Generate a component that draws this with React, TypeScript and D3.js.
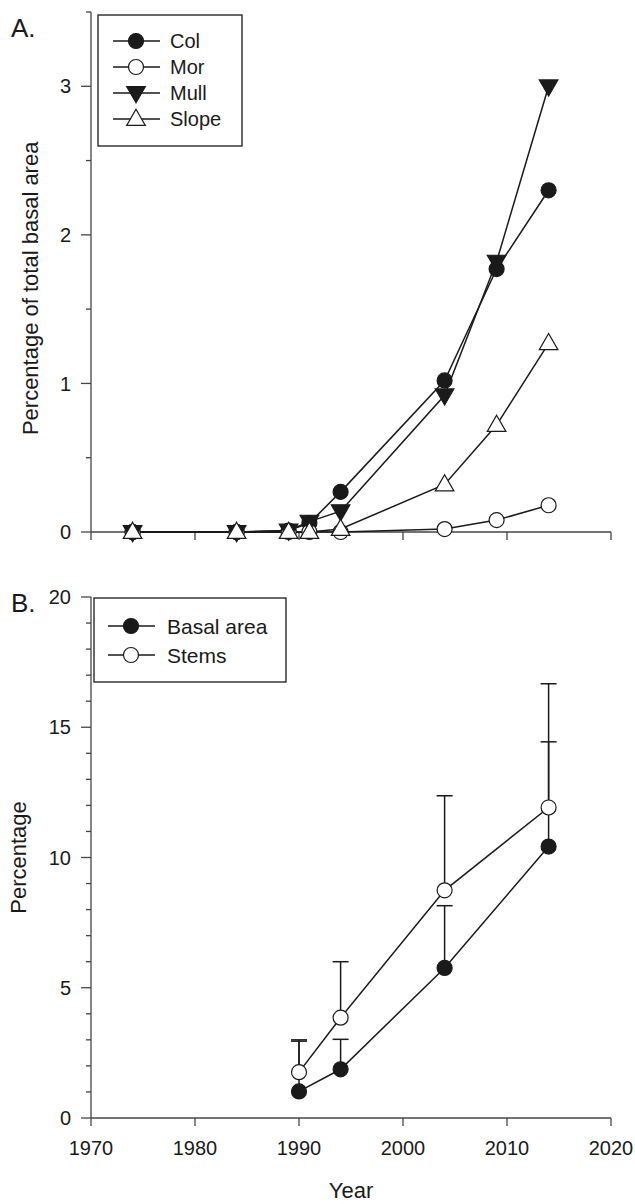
import React from "react";
import * as d3 from "d3";

// ---- Data ----
const yearsA = [1974, 1984, 1989, 1991, 1994, 2004, 2009, 2014];
const colValues = [0, 0, 0.01, 0.06, 0.27, 1.02, 1.77, 2.3];
const morValues = [0, 0, 0, 0, 0, 0.02, 0.08, 0.18];
const mullValues = [0, 0, 0.01, 0.07, 0.14, 0.92, 1.82, 3.0];
const slopeValues = [0, 0, 0, 0, 0.02, 0.32, 0.72, 1.27];
const seriesNamesA = ["Col", "Mor", "Mull", "Slope"];

const yearsB = [1990, 1994, 2004, 2014];
const basalValues = [1.02, 1.87, 5.76, 10.42];
const basalUpper = [2.95, 3.02, 8.15, 14.44];
const stemsValues = [1.76, 3.85, 8.74, 11.92];
const stemsUpper = [3.0, 6.0, 12.37, 16.67];
const seriesNamesB = ["Basal area", "Stems"];

const xTicks = [1970, 1980, 1990, 2000, 2010, 2020];
const yTicksA = [0, 1, 2, 3];
const yMinorA = [0.5, 1.5, 2.5, 3.5];
const yTicksB = [0, 5, 10, 15, 20];

const FONT = "'Liberation Sans', Arial, Helvetica, sans-serif";
const INK = "#1a1a1a";
const AXIS = "#444";

type Shape = "circle" | "triangleDown" | "triangleUp";

function Marker({ x, y, shape, filled }: { x: number; y: number; shape: Shape; filled: boolean }) {
  const fill = filled ? INK : "#fff";
  if (shape === "circle") {
    return <circle cx={x} cy={y} r={7.5} fill={fill} stroke={INK} strokeWidth={1.2} />;
  }
  const sym = d3.symbol().type(d3.symbolTriangle).size(150)();
  const rot = shape === "triangleDown" ? 180 : 0;
  return (
    <path
      d={sym || ""}
      transform={`translate(${x},${y + (shape === "triangleDown" ? -1 : 1)}) rotate(${rot})`}
      fill={fill}
      stroke={INK}
      strokeWidth={1.2}
    />
  );
}

export default function App() {
  const x = d3.scaleLinear().domain([1970, 2020]).range([91, 611]);
  const yA = d3.scaleLinear().domain([0, 3.5]).range([532, 12]);
  const yB = d3.scaleLinear().domain([0, 20]).range([1118, 597]);

  const line = (ys: (v: number) => number, xs: number[], vals: number[]) =>
    d3
      .line<number>()
      .x((_, i) => x(xs[i]))
      .y((v) => ys(v))(vals) || "";

  const seriesA = [
    { name: seriesNamesA[0], vals: colValues, shape: "circle" as Shape, filled: true },
    { name: seriesNamesA[1], vals: morValues, shape: "circle" as Shape, filled: false },
    { name: seriesNamesA[2], vals: mullValues, shape: "triangleDown" as Shape, filled: true },
    { name: seriesNamesA[3], vals: slopeValues, shape: "triangleUp" as Shape, filled: false },
  ];
  const seriesB = [
    { name: seriesNamesB[0], vals: basalValues, up: basalUpper, filled: true },
    { name: seriesNamesB[1], vals: stemsValues, up: stemsUpper, filled: false },
  ];

  const yMinorB = d3.range(1, 20).filter((v) => v % 5 !== 0);

  return (
    <svg
      width={635}
      height={1204}
      style={{ position: "absolute", left: 0, top: 0, background: "#fff" }}
      fontFamily={FONT}
    >
      {/* ===== Panel A ===== */}
      <text x={11} y={37} fontSize={26} fill={INK}>A.</text>
      <line x1={x(1970)} x2={x(1970)} y1={yA(3.5)} y2={yA(0)} stroke={AXIS} strokeWidth={1.3} />
      <line x1={x(1970)} x2={x(2020)} y1={yA(0)} y2={yA(0)} stroke={AXIS} strokeWidth={1.3} />
      {xTicks.map((t) => (
        <line key={"xa" + t} x1={x(t)} x2={x(t)} y1={yA(0)} y2={yA(0) + 8} stroke={AXIS} strokeWidth={1.3} />
      ))}
      {yTicksA.map((t) => (
        <g key={"ya" + t}>
          <line x1={x(1970) - 10} x2={x(1970)} y1={yA(t)} y2={yA(t)} stroke={AXIS} strokeWidth={1.3} />
          <text x={x(1970) - 20} y={yA(t)} dy="0.36em" textAnchor="end" fontSize={20} fill={INK}>
            {t}
          </text>
        </g>
      ))}
      {yMinorA.map((t) => (
        <line key={"yma" + t} x1={x(1970) - 5} x2={x(1970)} y1={yA(t)} y2={yA(t)} stroke={AXIS} strokeWidth={1.3} />
      ))}
      <text
        transform={`translate(38,${yA(1.64)}) rotate(-90)`}
        textAnchor="middle"
        fontSize={22}
        fill={INK}
      >
        Percentage of total basal area
      </text>
      {seriesA.map((s) => (
        <path key={"la" + s.name} d={line(yA, yearsA, s.vals)} fill="none" stroke={INK} strokeWidth={1.5} />
      ))}
      {seriesA.map((s) => (
        <g key={"ma" + s.name}>
          {s.vals.map((v, i) => (
            <Marker key={i} x={x(yearsA[i])} y={yA(v)} shape={s.shape} filled={s.filled} />
          ))}
        </g>
      ))}
      {/* legend A */}
      <rect x={98} y={15} width={144} height={131} fill="#fff" stroke={INK} strokeWidth={1.3} />
      {seriesA.map((s, i) => {
        const ly = 41 + i * 26;
        return (
          <g key={"lga" + s.name}>
            <line x1={113} x2={160} y1={ly} y2={ly} stroke={INK} strokeWidth={1.5} />
            <Marker x={136} y={ly} shape={s.shape} filled={s.filled} />
            <text x={170} y={ly} dy="0.36em" fontSize={20} fill={INK}>
              {s.name}
            </text>
          </g>
        );
      })}

      {/* ===== Panel B ===== */}
      <text x={11} y={612} fontSize={26} fill={INK}>B.</text>
      <line x1={x(1970)} x2={x(1970)} y1={yB(20)} y2={yB(0)} stroke={AXIS} strokeWidth={1.3} />
      <line x1={x(1970)} x2={x(2020)} y1={yB(0)} y2={yB(0)} stroke={AXIS} strokeWidth={1.3} />
      {xTicks.map((t) => (
        <g key={"xb" + t}>
          <line x1={x(t)} x2={x(t)} y1={yB(0)} y2={yB(0) + 8} stroke={AXIS} strokeWidth={1.3} />
          <text x={x(t)} y={yB(0) + 37} textAnchor="middle" fontSize={20} fill={INK}>
            {t}
          </text>
        </g>
      ))}
      {yTicksB.map((t) => (
        <g key={"yb" + t}>
          <line x1={x(1970) - 10} x2={x(1970)} y1={yB(t)} y2={yB(t)} stroke={AXIS} strokeWidth={1.3} />
          <text x={x(1970) - 20} y={yB(t)} dy="0.36em" textAnchor="end" fontSize={20} fill={INK}>
            {t}
          </text>
        </g>
      ))}
      {yMinorB.map((t) => (
        <line key={"ymb" + t} x1={x(1970) - 5} x2={x(1970)} y1={yB(t)} y2={yB(t)} stroke={AXIS} strokeWidth={1.3} />
      ))}
      <text
        transform={`translate(26,${yB(10)}) rotate(-90)`}
        textAnchor="middle"
        fontSize={22}
        fill={INK}
      >
        Percentage
      </text>
      <text x={351} y={1198} textAnchor="middle" fontSize={22} fill={INK}>
        Year
      </text>
      {seriesB.map((s) => (
        <g key={"eb" + s.name}>
          {s.vals.map((v, i) => (
            <g key={i}>
              <line x1={x(yearsB[i])} x2={x(yearsB[i])} y1={yB(v)} y2={yB(s.up[i])} stroke={INK} strokeWidth={1.5} />
              <line x1={x(yearsB[i]) - 8} x2={x(yearsB[i]) + 8} y1={yB(s.up[i])} y2={yB(s.up[i])} stroke={INK} strokeWidth={1.5} />
            </g>
          ))}
        </g>
      ))}
      {seriesB.map((s) => (
        <path key={"lb" + s.name} d={line(yB, yearsB, s.vals)} fill="none" stroke={INK} strokeWidth={1.5} />
      ))}
      {seriesB.map((s) => (
        <g key={"mb" + s.name}>
          {s.vals.map((v, i) => (
            <Marker key={i} x={x(yearsB[i])} y={yB(v)} shape="circle" filled={s.filled} />
          ))}
        </g>
      ))}
      {/* legend B */}
      <rect x={94} y={598} width={192} height={84} fill="#fff" stroke={INK} strokeWidth={1.3} />
      {seriesB.map((s, i) => {
        const ly = 626 + i * 29;
        return (
          <g key={"lgb" + s.name}>
            <line x1={108} x2={155} y1={ly} y2={ly} stroke={INK} strokeWidth={1.5} />
            <Marker x={131} y={ly} shape="circle" filled={s.filled} />
            <text x={167} y={ly} dy="0.36em" fontSize={21} fill={INK}>
              {s.name}
            </text>
          </g>
        );
      })}
    </svg>
  );
}
